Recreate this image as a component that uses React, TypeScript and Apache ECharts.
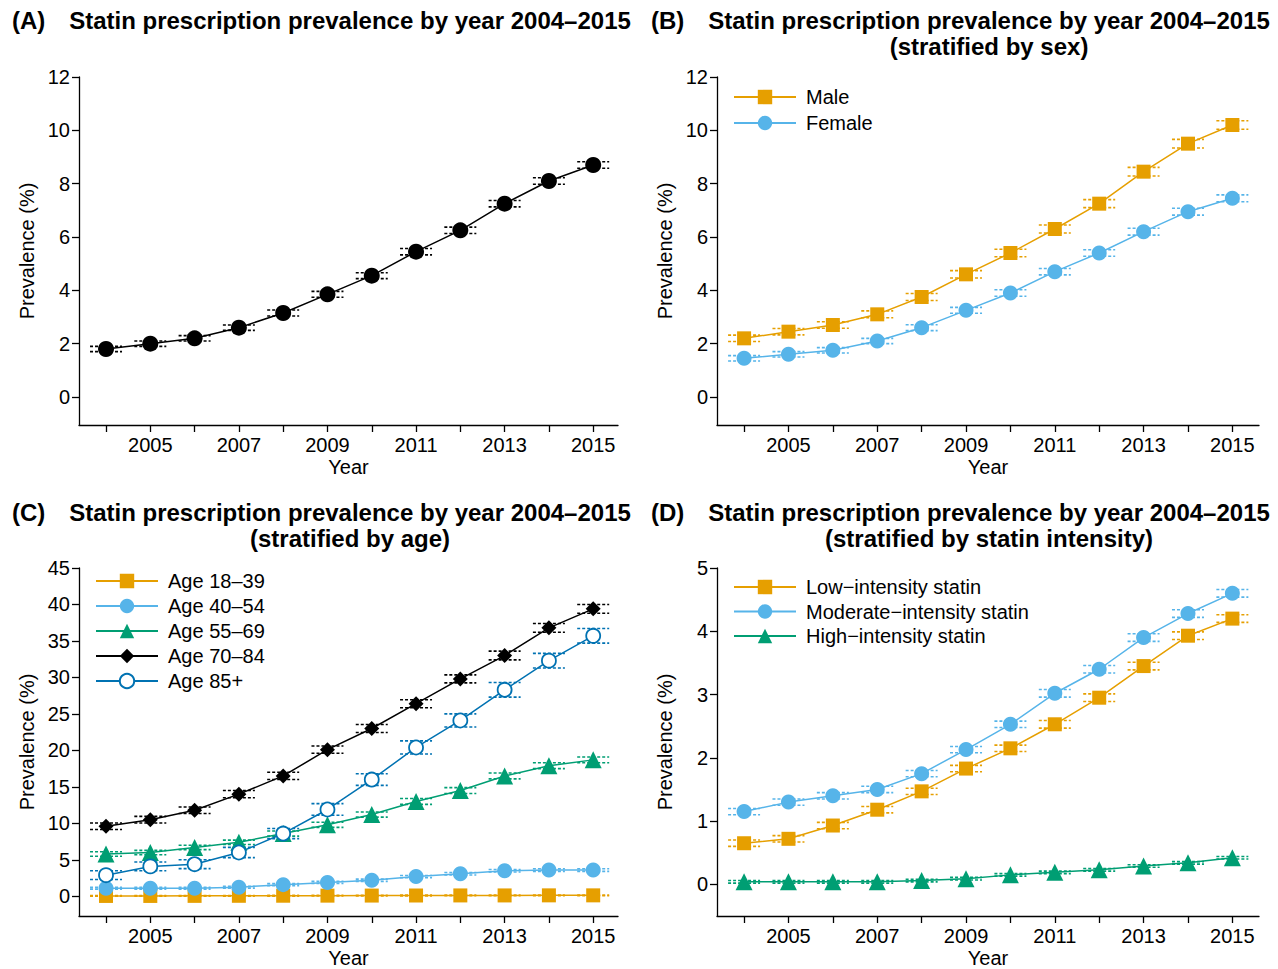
import React, { useEffect, useRef } from "react";
import * as echarts from "echarts";

const years = [2004, 2005, 2006, 2007, 2008, 2009, 2010, 2011, 2012, 2013, 2014, 2015];
const labelYears = [2005, 2007, 2009, 2011, 2013, 2015];

// Panel A
const overall = [1.8, 2.0, 2.2, 2.6, 3.15, 3.85, 4.55, 5.45, 6.25, 7.25, 8.1, 8.7];
const overallCI = [0.1, 0.1, 0.1, 0.1, 0.11, 0.11, 0.11, 0.12, 0.12, 0.12, 0.12, 0.12];

// Panel B
const male = [2.2, 2.45, 2.7, 3.1, 3.75, 4.6, 5.4, 6.3, 7.25, 8.45, 9.5, 10.2];
const maleCI = [0.12, 0.12, 0.12, 0.13, 0.13, 0.14, 0.14, 0.15, 0.15, 0.16, 0.16, 0.16];
const female = [1.45, 1.6, 1.75, 2.1, 2.6, 3.25, 3.9, 4.7, 5.4, 6.2, 6.95, 7.45];
const femaleCI = [0.1, 0.1, 0.1, 0.1, 0.11, 0.11, 0.12, 0.12, 0.12, 0.13, 0.13, 0.13];

// Panel C
const age1839 = [0.05, 0.05, 0.06, 0.07, 0.08, 0.09, 0.1, 0.11, 0.12, 0.12, 0.13, 0.13];
const age1839CI = [0.05, 0.05, 0.05, 0.05, 0.05, 0.05, 0.05, 0.05, 0.05, 0.05, 0.05, 0.05];
const age4054 = [1.1, 1.1, 1.1, 1.25, 1.6, 1.9, 2.2, 2.7, 3.1, 3.5, 3.6, 3.6];
const age4054CI = [0.12, 0.12, 0.12, 0.13, 0.14, 0.14, 0.15, 0.16, 0.17, 0.17, 0.18, 0.18];
const age5569 = [5.8, 6.0, 6.7, 7.4, 8.6, 9.8, 11.2, 13.0, 14.5, 16.5, 17.9, 18.7];
const age5569CI = [0.3, 0.3, 0.3, 0.3, 0.35, 0.35, 0.35, 0.4, 0.4, 0.4, 0.4, 0.4];
const age7084 = [9.6, 10.5, 11.8, 14.0, 16.5, 20.1, 23.0, 26.4, 29.8, 33.0, 36.8, 39.4];
const age7084CI = [0.45, 0.45, 0.45, 0.5, 0.5, 0.5, 0.55, 0.55, 0.55, 0.6, 0.6, 0.6];
const age85 = [2.9, 4.1, 4.4, 6.0, 8.6, 11.9, 16.0, 20.4, 24.1, 28.3, 32.3, 35.7];
const age85CI = [0.6, 0.6, 0.6, 0.7, 0.7, 0.8, 0.8, 0.9, 0.9, 1.0, 1.0, 1.0];

// Panel D
const lowInt = [0.65, 0.72, 0.93, 1.18, 1.47, 1.83, 2.15, 2.53, 2.95, 3.45, 3.93, 4.2];
const lowIntCI = [0.05, 0.05, 0.05, 0.05, 0.05, 0.05, 0.05, 0.06, 0.06, 0.06, 0.06, 0.06];
const modInt = [1.15, 1.3, 1.4, 1.5, 1.75, 2.13, 2.53, 3.02, 3.4, 3.9, 4.28, 4.6];
const modIntCI = [0.05, 0.05, 0.05, 0.05, 0.05, 0.05, 0.05, 0.06, 0.06, 0.06, 0.06, 0.06];
const highInt = [0.04, 0.04, 0.04, 0.04, 0.06, 0.09, 0.15, 0.19, 0.23, 0.29, 0.34, 0.42];
const highIntCI = [0.02, 0.02, 0.02, 0.02, 0.02, 0.02, 0.02, 0.02, 0.02, 0.02, 0.02, 0.02];

const yTicksA = [0, 2, 4, 6, 8, 10, 12];
const yTicksC = [0, 5, 10, 15, 20, 25, 30, 35, 40, 45];
const yTicksD = [0, 1, 2, 3, 4, 5];

const ORANGE = "#E69F00";
const SKY = "#56B4E9";
const GREEN = "#009E73";
const BLACK = "#000000";
const BLUE = "#0072B2";
const FONT = "'Liberation Sans', Arial, sans-serif";

function ciSeries(name: string, g: number, vals: number[], ci: number[], color: string) {
  return {
    type: "custom",
    name: name + " CI",
    xAxisIndex: g,
    yAxisIndex: g,
    silent: true,
    z: 1,
    data: years.map((y, i) => [y, vals[i] - ci[i], vals[i] + ci[i]]),
    encode: { x: 0, y: [1, 2] },
    renderItem: (params: any, api: any) => {
      const lo = api.coord([api.value(0), api.value(1)]);
      const hi = api.coord([api.value(0), api.value(2)]);
      const style = { stroke: color, lineWidth: 1.6, lineDash: [3, 2], fill: null };
      return {
        type: "group",
        children: [
          { type: "line", shape: { x1: lo[0] - 16, y1: lo[1], x2: lo[0] + 16, y2: lo[1] }, style },
          { type: "line", shape: { x1: hi[0] - 16, y1: hi[1], x2: hi[0] + 16, y2: hi[1] }, style },
        ],
      };
    },
  };
}

function lineSeries(name: string, g: number, vals: number[], color: string, symbol: string, size: number, open = false) {
  return {
    type: "line",
    name,
    xAxisIndex: g,
    yAxisIndex: g,
    z: 3,
    data: years.map((y, i) => [y, vals[i]]),
    symbol,
    symbolSize: size,
    showSymbol: true,
    lineStyle: { color, width: 1.5 },
    itemStyle: open
      ? { color: "#ffffff", borderColor: color, borderWidth: 1.8 }
      : { color, borderWidth: 0 },
    emphasis: { disabled: true },
  };
}

function xAxis(g: number, min: number, max: number) {
  return {
    type: "value",
    gridIndex: g,
    min,
    max,
    name: "Year",
    nameLocation: "middle",
    nameGap: 32,
    nameTextStyle: { fontFamily: FONT, fontSize: 20, color: "#000" },
    axisLine: { show: true, onZero: false, lineStyle: { color: "#000", width: 1.3 } },
    axisTick: { show: true, length: 7, customValues: years, lineStyle: { color: "#000", width: 1.3 } },
    axisLabel: {
      customValues: labelYears,
      formatter: (v: number) => String(v),
      margin: 10,
      fontFamily: FONT,
      fontSize: 20,
      color: "#000",
    },
    splitLine: { show: false },
  };
}

function yAxis(g: number, min: number, max: number, ticks: number[]) {
  return {
    type: "value",
    gridIndex: g,
    min,
    max,
    name: "Prevalence (%)",
    nameLocation: "middle",
    nameGap: 42,
    nameTextStyle: { fontFamily: FONT, fontSize: 20, color: "#000" },
    axisLine: { show: true, onZero: false, lineStyle: { color: "#000", width: 1.3 } },
    axisTick: { show: true, length: 7, customValues: ticks, lineStyle: { color: "#000", width: 1.3 } },
    axisLabel: {
      customValues: ticks,
      formatter: (v: number) => String(v),
      margin: 9,
      fontFamily: FONT,
      fontSize: 20,
      color: "#000",
    },
    splitLine: { show: false },
  };
}

function legend(names: string[], left: number, top: number, gap: number) {
  return {
    data: names,
    orient: "vertical",
    left,
    top,
    padding: 0,
    itemWidth: 62,
    itemHeight: 18,
    itemGap: gap,
    selectedMode: false,
    textStyle: { fontFamily: FONT, fontSize: 20, color: "#000", padding: [0, 0, 0, 5] },
  };
}

function titleTexts(tag: string, tagX: number, cx: number, y: number, lines: string[]) {
  const items: any[] = [
    {
      type: "text",
      x: tagX,
      y,
      style: { text: tag, font: `bold 24px ${FONT}`, fill: "#000", textAlign: "left", textVerticalAlign: "middle" },
    },
  ];
  lines.forEach((l, i) => {
    items.push({
      type: "text",
      x: cx,
      y: y + i * 26,
      style: { text: l, font: `bold 24px ${FONT}`, fill: "#000", textAlign: "center", textVerticalAlign: "middle" },
    });
  });
  return items;
}

const TITLE = "Statin prescription prevalence by year 2004–2015";

export default function App() {
  const ref = useRef<HTMLDivElement>(null);
  useEffect(() => {
    if (!ref.current) return;
    const chart = echarts.init(ref.current, null, { renderer: "svg" });
    const option: any = {
      animation: false,
      backgroundColor: "#ffffff",
      grid: [
        { left: 79, top: 77, width: 539, height: 348 },
        { left: 717, top: 77, width: 542, height: 348 },
        { left: 79, top: 568, width: 539, height: 349 },
        { left: 717, top: 568, width: 542, height: 348 },
      ],
      xAxis: [
        xAxis(0, 2003.39, 2015.56),
        xAxis(1, 2003.39, 2015.6),
        xAxis(2, 2003.39, 2015.56),
        xAxis(3, 2003.39, 2015.6),
      ],
      yAxis: [
        yAxis(0, -1.05, 12, yTicksA),
        yAxis(1, -1.05, 12, yTicksA),
        yAxis(2, -2.7, 45, yTicksC),
        yAxis(3, -0.5, 5, yTicksD),
      ],
      legend: [
        legend(["Male", "Female"], 733, 87, 6),
        legend(["Age 18–39", "Age 40–54", "Age 55–69", "Age 70–84", "Age 85+"], 95, 571, 5),
        legend(["Low−intensity statin", "Moderate−intensity statin", "High−intensity statin"], 733, 577, 4.5),
      ],
      graphic: [
        ...titleTexts("(A)", 12, 350, 20, [TITLE]),
        ...titleTexts("(B)", 651, 989, 20, [TITLE, "(stratified by sex)"]),
        ...titleTexts("(C)", 12, 350, 512, [TITLE, "(stratified by age)"]),
        ...titleTexts("(D)", 651, 989, 512, [TITLE, "(stratified by statin intensity)"]),
      ],
      series: [
        ciSeries("Overall", 0, overall, overallCI, BLACK),
        lineSeries("Overall", 0, overall, BLACK, "circle", 16),

        ciSeries("Male", 1, male, maleCI, ORANGE),
        ciSeries("Female", 1, female, femaleCI, SKY),
        lineSeries("Male", 1, male, ORANGE, "rect", 14),
        lineSeries("Female", 1, female, SKY, "circle", 15),

        ciSeries("Age 18–39", 2, age1839, age1839CI, ORANGE),
        ciSeries("Age 40–54", 2, age4054, age4054CI, SKY),
        ciSeries("Age 55–69", 2, age5569, age5569CI, GREEN),
        ciSeries("Age 70–84", 2, age7084, age7084CI, BLACK),
        ciSeries("Age 85+", 2, age85, age85CI, BLUE),
        lineSeries("Age 18–39", 2, age1839, ORANGE, "rect", 14),
        lineSeries("Age 40–54", 2, age4054, SKY, "circle", 15),
        lineSeries("Age 55–69", 2, age5569, GREEN, "triangle", 17),
        lineSeries("Age 70–84", 2, age7084, BLACK, "diamond", 15),
        lineSeries("Age 85+", 2, age85, BLUE, "circle", 14, true),

        ciSeries("Low−intensity statin", 3, lowInt, lowIntCI, ORANGE),
        ciSeries("Moderate−intensity statin", 3, modInt, modIntCI, SKY),
        ciSeries("High−intensity statin", 3, highInt, highIntCI, GREEN),
        lineSeries("Low−intensity statin", 3, lowInt, ORANGE, "rect", 14),
        lineSeries("Moderate−intensity statin", 3, modInt, SKY, "circle", 15),
        lineSeries("High−intensity statin", 3, highInt, GREEN, "triangle", 17),
      ],
    };
    chart.setOption(option);
    return () => chart.dispose();
  }, []);
  return (
    <div
      ref={ref}
      style={{ position: "fixed", left: 0, top: 0, width: 1278, height: 969, background: "#fff" }}
    />
  );
}
